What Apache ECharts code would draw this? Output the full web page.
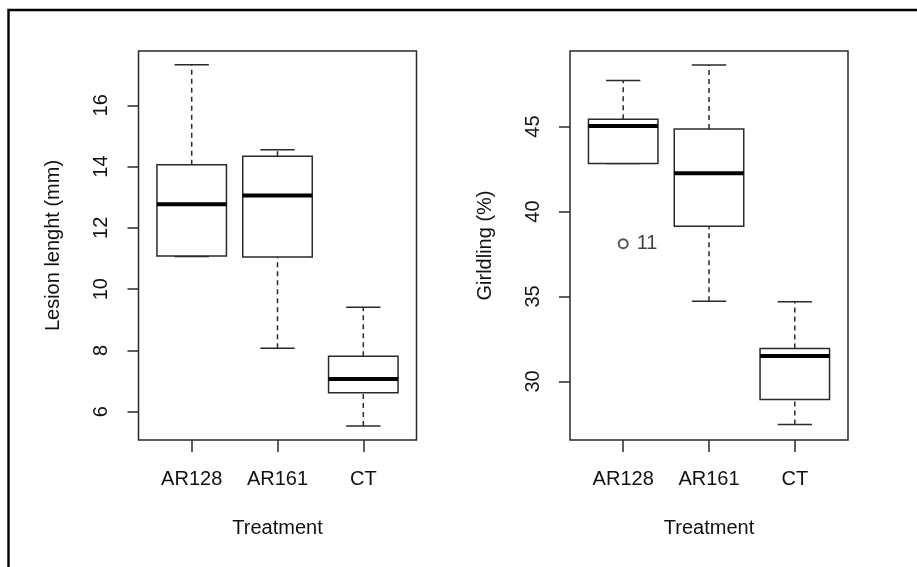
<!DOCTYPE html>
<html><head><meta charset="utf-8">
<script src="https://cdn.jsdelivr.net/npm/echarts@6/dist/echarts.min.js"></script>
<style>html,body{margin:0;padding:0;background:#fff}#c{width:917px;height:567px}</style>
</head><body><div id="c"></div>
<script>
var categories = ['AR128', 'AR161', 'CT'];
var lesionMin = [11.07, 8.07, 5.54];
var lesionQ1 = [11.08, 11.05, 6.62];
var lesionMedian = [12.77, 13.06, 7.07];
var lesionQ3 = [14.06, 14.34, 7.81];
var lesionMax = [17.32, 14.55, 9.41];
var lesionTicks = [6, 8, 10, 12, 14, 16];

var girdMin = [42.83, 34.72, 27.46];
var girdQ1 = [42.83, 39.13, 28.93];
var girdMedian = [45.04, 42.26, 31.50];
var girdQ3 = [45.43, 44.86, 31.93];
var girdMax = [47.72, 48.62, 34.69];
var girdTicks = [30, 35, 40, 45];
var girdOutliers = [[1, 38.11, '11']];

var catPos = [1, 2, 3];
var FONT = 'Liberation Sans, Arial, sans-serif';
var INK = '#111';
var FRAME = '#2a2a2a';

function buildBoxData(mn, q1, md, q3, mx) {
  return catPos.map(function (p, i) { return [p, mn[i], q1[i], md[i], q3[i], mx[i]]; });
}

function renderBox(params, api) {
  var x = api.value(0);
  var pMin = api.coord([x, api.value(1)]);
  var pQ1 = api.coord([x, api.value(2)]);
  var pMed = api.coord([x, api.value(3)]);
  var pQ3 = api.coord([x, api.value(4)]);
  var pMax = api.coord([x, api.value(5)]);
  var bw = api.size([0.81, 0])[0];
  var cw = api.size([0.4, 0])[0];
  var cx = pMed[0];
  var lineStyle = {stroke: FRAME, lineWidth: 1.5, fill: null};
  var dash = {stroke: FRAME, lineWidth: 1.5, lineDash: [5, 4], fill: null};
  return {
    type: 'group',
    children: [
      {type: 'line', shape: {x1: cx, y1: pQ3[1], x2: cx, y2: pMax[1]}, style: dash},
      {type: 'line', shape: {x1: cx, y1: pMin[1], x2: cx, y2: pQ1[1]}, style: dash},
      {type: 'line', shape: {x1: cx - cw / 2, y1: pMax[1], x2: cx + cw / 2, y2: pMax[1]}, style: lineStyle},
      {type: 'line', shape: {x1: cx - cw / 2, y1: pMin[1], x2: cx + cw / 2, y2: pMin[1]}, style: lineStyle},
      {type: 'rect', shape: {x: cx - bw / 2, y: pQ3[1], width: bw, height: pQ1[1] - pQ3[1]},
        style: {stroke: FRAME, lineWidth: 1.5, fill: '#fff'}},
      {type: 'line', shape: {x1: cx - bw / 2, y1: pMed[1], x2: cx + bw / 2, y2: pMed[1]},
        style: {stroke: '#000', lineWidth: 4, fill: null}}
    ]
  };
}

function xAxis(idx) {
  return {
    type: 'value', gridIndex: idx, min: 0.38, max: 3.62,
    name: 'Treatment', nameLocation: 'middle', nameGap: 78,
    nameTextStyle: {fontFamily: FONT, fontSize: 20, color: INK},
    axisLine: {show: false},
    splitLine: {show: false},
    axisTick: {show: true, customValues: catPos, length: 12, lineStyle: {color: FRAME, width: 1.5}},
    axisLabel: {customValues: catPos, margin: 29, fontFamily: FONT, fontSize: 20, color: INK,
      formatter: function (v) { return categories[Math.round(v) - 1]; }}
  };
}
function yAxis(idx, mn, mx, ticks, name) {
  return {
    type: 'value', gridIndex: idx, min: mn, max: mx,
    name: name, nameLocation: 'middle', nameGap: 75, nameRotate: 90,
    nameTextStyle: {fontFamily: FONT, fontSize: 20, color: INK},
    axisLine: {show: false},
    splitLine: {show: false},
    axisTick: {show: true, customValues: ticks, length: 11, lineStyle: {color: FRAME, width: 1.5}},
    axisLabel: {customValues: ticks, rotate: 90, margin: 27, fontFamily: FONT, fontSize: 20, color: INK}
  };
}

var chart = echarts.init(document.getElementById('c'), null, {renderer: 'canvas'});
chart.setOption({
  animation: false,
  backgroundColor: '#fff',
  graphic: [{type: 'polyline', shape: {points: [[8.5, 580], [8.5, 10], [930, 10]]},
    style: {stroke: '#000', lineWidth: 2.4, fill: null}, silent: true}],
  grid: [
    {left: 138.5, top: 51, width: 278, height: 389, show: true, borderColor: FRAME, borderWidth: 1.5, backgroundColor: 'transparent'},
    {left: 570, top: 51, width: 278, height: 389, show: true, borderColor: FRAME, borderWidth: 1.5, backgroundColor: 'transparent'}
  ],
  xAxis: [xAxis(0), xAxis(1)],
  yAxis: [
    yAxis(0, 5.08, 17.77, lesionTicks, 'Lesion lenght (mm)'),
    yAxis(1, 26.55, 49.45, girdTicks, 'Girldling (%)')
  ],
  series: [
    {type: 'custom', xAxisIndex: 0, yAxisIndex: 0, renderItem: renderBox,
      data: buildBoxData(lesionMin, lesionQ1, lesionMedian, lesionQ3, lesionMax), encode: {x: 0, y: [1, 2, 3, 4, 5]}},
    {type: 'custom', xAxisIndex: 1, yAxisIndex: 1, renderItem: renderBox,
      data: buildBoxData(girdMin, girdQ1, girdMedian, girdQ3, girdMax), encode: {x: 0, y: [1, 2, 3, 4, 5]}},
    {type: 'scatter', xAxisIndex: 1, yAxisIndex: 1, symbol: 'emptyCircle', symbolSize: 9, z: 5,
      itemStyle: {color: FRAME, borderColor: FRAME, borderWidth: 1.5},
      label: {show: true, position: 'right', distance: 8, fontFamily: FONT, fontSize: 20, color: INK,
        formatter: function (p) { return p.data[2]; }},
      data: girdOutliers}
  ]
});
</script></body></html>
